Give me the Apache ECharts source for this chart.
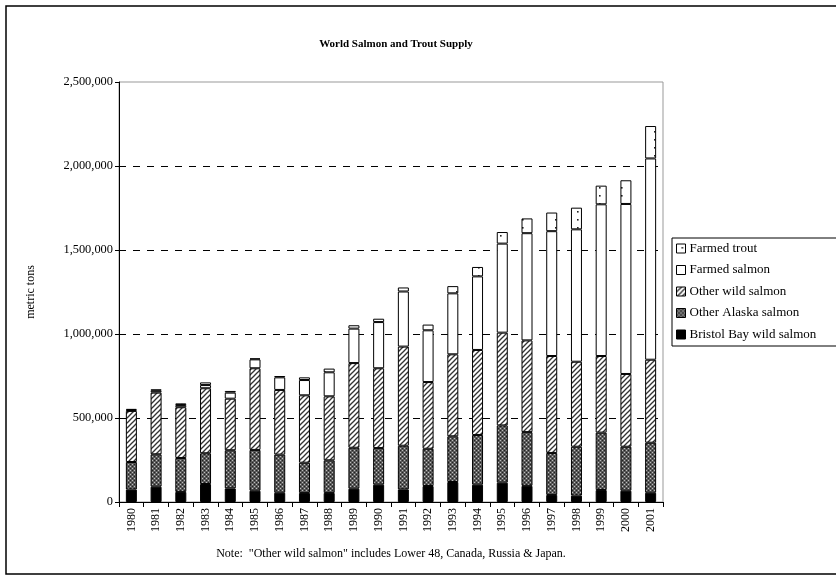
<!DOCTYPE html>
<html><head><meta charset="utf-8">
<script src="https://cdn.jsdelivr.net/npm/echarts@6/dist/echarts.min.js"></script>
<style>html,body{margin:0;padding:0;background:#fff}#c{width:836px;height:578px}</style>
</head><body><div id="c"></div>
<script>
const years = ['1980','1981','1982','1983','1984','1985','1986','1987','1988','1989','1990','1991','1992','1993','1994','1995','1996','1997','1998','1999','2000','2001'];
const bristolBay   = [74000, 91000, 60000, 107000, 81000, 67000, 55000, 54000, 54000, 79000, 103000, 75000, 95000, 119000, 103000, 115000, 96000, 42000, 38000, 71000, 67000, 55000];
const otherAlaska  = [164000, 193000, 202000, 183000, 227000, 243000, 227000, 180000, 194000, 244000, 218000, 260000, 222000, 272000, 296000, 341000, 320000, 250000, 291000, 342000, 262000, 298000];
const otherWild    = [304000, 367000, 302000, 387000, 307000, 486000, 385000, 401000, 381000, 504000, 475000, 590000, 397000, 488000, 506000, 552000, 546000, 577000, 506000, 456000, 433000, 494000];
const farmedSalmon = [6000, 11000, 13000, 19000, 36000, 53000, 75000, 91000, 143000, 205000, 275000, 328000, 308000, 363000, 438000, 530000, 638000, 743000, 788000, 903000, 1012000, 1198000];
const farmedTrout  = [6000, 9000, 10000, 16000, 10000, 6000, 8000, 16000, 22000, 20000, 20000, 24000, 34000, 43000, 56000, 69000, 88000, 111000, 129000, 111000, 141000, 193000];
const yTicks = [0, 500000, 1000000, 1500000, 2000000, 2500000];

function pat(w, h, draw) {
  const c = document.createElement('canvas');
  c.width = w; c.height = h;
  const g = c.getContext('2d');
  g.fillStyle = '#fff'; g.fillRect(0, 0, w, h);
  draw(g);
  return { image: c, repeat: 'repeat' };
}
const checkPat = pat(4, 4, g => {
  g.fillStyle = '#5a5a5a'; g.fillRect(0, 0, 4, 4);
  g.fillStyle = '#bdbdbd'; g.fillRect(0, 0, 1, 1); g.fillRect(2, 2, 1, 1);
  g.fillStyle = '#222'; g.fillRect(2, 0, 1, 1); g.fillRect(0, 2, 1, 1);
});
const stripePat = pat(5, 5, g => {
  g.strokeStyle = '#333'; g.lineWidth = 1.3;
  g.beginPath(); g.moveTo(-1, 6); g.lineTo(6, -1); g.stroke();
  g.beginPath(); g.moveTo(-1, 1); g.lineTo(1, -1); g.stroke();
  g.beginPath(); g.moveTo(4, 6); g.lineTo(6, 4); g.stroke();
});
const dotPat = pat(11, 8, g => {
  g.fillStyle = '#222'; g.fillRect(5, 3, 1.6, 1.6);
});

const font = '"Liberation Serif", "Times New Roman", serif';
const names = ['Bristol Bay wild salmon', 'Other Alaska salmon', 'Other wild salmon', 'Farmed salmon', 'Farmed trout'];
const datas = [bristolBay, otherAlaska, otherWild, farmedSalmon, farmedTrout];
const fills = ['#000', checkPat, stripePat, '#fff', dotPat];

const chart = echarts.init(document.getElementById('c'), null, { renderer: 'canvas' });
chart.setOption({
  animation: false,
  backgroundColor: '#fff',
  title: {
    text: 'World Salmon and Trout Supply', left: 391, top: 34, textAlign: 'center',
    textStyle: { fontFamily: font, fontWeight: 'bold', fontSize: 11, color: '#000' }
  },
  grid: { left: 119, right: 173, top: 82, bottom: 76, show: true, borderColor: '#999', borderWidth: 1 },
  legend: {
    orient: 'vertical', left: 672, top: 238,
    data: names.slice().reverse(),
    icon: 'rect',
    itemWidth: 9, itemHeight: 9, itemGap: 8.5,
    padding: [4, 40, 5, 4],
    borderColor: '#000', borderWidth: 1, backgroundColor: '#fff',
    textStyle: { fontFamily: font, fontSize: 13, color: '#000', padding: [0, 0, 0, -1] },
    itemStyle: { borderColor: '#000', borderWidth: 1 }
  },
  xAxis: {
    type: 'category', data: years, boundaryGap: true,
    axisLine: { lineStyle: { color: '#000', width: 1 } },
    axisTick: { show: true, alignWithLabel: false, length: 5, lineStyle: { color: '#000' } },
    axisLabel: { rotate: 90, interval: 0, fontFamily: font, fontSize: 12, color: '#000', margin: 6 }
  },
  yAxis: {
    type: 'value', min: 0, max: 2500000, interval: 500000,
    name: 'metric tons', nameLocation: 'middle', nameGap: 82, nameRotate: 90,
    nameTextStyle: { fontFamily: font, fontSize: 12, color: '#000' },
    axisLine: { show: true, lineStyle: { color: '#000', width: 1 } },
    axisTick: { show: true, length: 4, lineStyle: { color: '#000' } },
    axisLabel: {
      fontFamily: font, fontSize: 12.4, color: '#000', margin: 6,
      formatter: v => yTicks.includes(v) ? v.toLocaleString('en-US') : ''
    },
    splitLine: {
      show: true,
      lineStyle: { color: '#000', type: [7, 7], width: 1 },
      showMaxLine: false
    }
  },
  series: names.map((n, i) => ({
    name: n, type: 'bar', stack: 'all', data: datas[i], barWidth: 11,
    itemStyle: { color: fills[i], borderColor: '#000', borderWidth: 1 },
    emphasis: { disabled: true }
  })),
  graphic: [
    { type: 'rect', shape: { x: 6, y: 6, width: 840, height: 568 }, style: { fill: null, stroke: '#000', lineWidth: 1.5 }, silent: true, z: 100 },
    { type: 'text', x: 391, y: 548,
      style: { text: 'Note:  "Other wild salmon" includes Lower 48, Canada, Russia & Japan.', font: '12px ' + font, fill: '#000', textAlign: 'center' }, silent: true }
  ]
});
</script></body></html>
